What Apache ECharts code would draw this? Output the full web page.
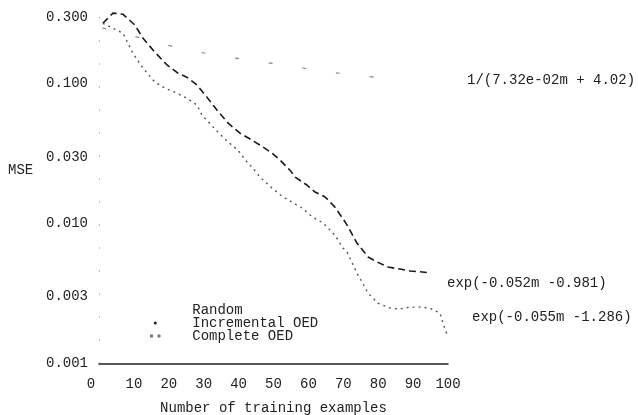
<!DOCTYPE html>
<html>
<head>
<meta charset="utf-8">
<script src="https://cdn.jsdelivr.net/npm/echarts@6/dist/echarts.min.js"></script>
<style>html,body{margin:0;padding:0;background:#fff}#c{width:638px;height:415px}</style>
</head>
<body>
<div id="c"></div>
<script>
// ---- data ----
const xTicks = [0,10,20,30,40,50,60,70,80,90,100];
const yTicks = [0.001,0.003,0.01,0.03,0.1,0.3];

const randomM = [1, 17.5, 23, 35, 51, 66, 86];
const randomV = [0.25, 0.195, 0.179, 0.157, 0.138, 0.121, 0.106];

const incM = [1.1, 4.0, 6.9, 10.3, 12.6, 16.0, 19.5, 22.6, 25.2, 28.1, 30.9, 33.8, 37.0, 40.4, 43.8, 46.1, 49.6, 51.9, 54.7, 56.2, 59.6, 61.9, 64.8, 67.6, 69.6, 71.1, 73.9, 77.1, 79.7, 82.8, 86.2, 89.1, 92.6, 95.1];
const incV = [0.270, 0.319, 0.313, 0.262, 0.211, 0.168, 0.136, 0.119, 0.111, 0.0976, 0.0801, 0.0647, 0.0522, 0.0443, 0.0395, 0.0364, 0.0319, 0.0284, 0.0241, 0.0215, 0.0188, 0.0168, 0.0155, 0.0131, 0.0111, 0.00975, 0.00726, 0.00577, 0.00531, 0.00489, 0.00473, 0.00458, 0.00451, 0.00443];

const comM = [1.1, 6.9, 9.7, 12.6, 16.0, 18.9, 22.3, 25.2, 28.1, 29.5, 34.1, 37.0, 39.8, 42.4, 44.1, 46.1, 49.6, 52.7, 58.2, 61.3, 64.2, 67.6, 69.9, 71.1, 73.9, 77.1, 79.9, 83.4, 86.2, 89.1, 92.0, 94.8, 97.7, 99, 100];
const comV = [0.270, 0.229, 0.165, 0.129, 0.1026, 0.0929, 0.0855, 0.0787, 0.0702, 0.0596, 0.0450, 0.0382, 0.0335, 0.0275, 0.0249, 0.0215, 0.0179, 0.0155, 0.0129, 0.0111, 0.0101, 0.00827, 0.00668, 0.00626, 0.00443, 0.00319, 0.00270, 0.00249, 0.00245, 0.00253, 0.00253, 0.00249, 0.00229, 0.0018, 0.00155];

const seriesNames = ['Random', 'Incremental OED', 'Complete OED'];
const fitLabels = ['1/(7.32e-02m + 4.02)', 'exp(-0.052m -0.981)', 'exp(-0.055m -1.286)'];

const pair = (m, v) => m.map((x, i) => [x, v[i]]);
const FONT = '"Liberation Mono", "DejaVu Sans Mono", monospace';
const COLORS = ['#888', '#1a1a1a', '#555'];

const chart = echarts.init(document.getElementById('c'), null, {renderer: 'canvas'});
chart.setOption({
  animation: false,
  backgroundColor: '#fff',
  color: COLORS,
  grid: {left: 99, right: 190, top: 7.5, bottom: 51.5, outerBoundsMode: 'none', containLabel: false},
  xAxis: {
    type: 'value', min: 0, max: 100, interval: 10,
    name: 'Number of training examples', nameLocation: 'middle', nameGap: 38,
    nameTextStyle: {fontFamily: FONT, fontSize: 14, color: '#222'},
    axisLine: {show: true, lineStyle: {color: '#222', width: 1.5}},
    axisTick: {show: false},
    splitLine: {show: false},
    axisLabel: {
      fontFamily: FONT, fontSize: 14, color: '#222', margin: 14,
      formatter: v => v === 0 ? '{z|0}' : String(v),
      rich: {z: {fontFamily: FONT, fontSize: 14, color: '#222', padding: [0, 16, 0, 0]}}
    }
  },
  yAxis: {
    type: 'log', min: 0.001, max: 0.35, logBase: 10,
    axisLine: {show: true, lineStyle: {color: '#bbb', width: 1, type: [1, 22]}},
    axisTick: {show: false},
    splitLine: {show: false},
    axisLabel: {
      fontFamily: FONT, fontSize: 14, color: '#222', margin: 11,
      customValues: yTicks,
      formatter: v => Number(v).toFixed(3)
    }
  },
  legend: {
    orient: 'vertical', left: 145, top: 298,
    itemWidth: 20, itemHeight: 3, itemGap: -1,
    textStyle: {fontFamily: FONT, fontSize: 14, color: '#222', lineHeight: 13, padding: [0, 0, 0, 22]},
    data: [
      {name: seriesNames[0], icon: 'circle', itemStyle: {opacity: 0}},
      {name: seriesNames[1], icon: 'circle', itemStyle: {color: '#222'}},
      {name: seriesNames[2], icon: 'path://M0,0h2v2h-2zM5,0h2v2h-2z', itemStyle: {color: '#777'}}
    ]
  },
  graphic: [
    {type: 'text', left: 8, top: 163, style: {text: 'MSE', font: '14px ' + FONT, fill: '#222'}},
    {type: 'text', left: 467, top: 73, style: {text: fitLabels[0], font: '14px ' + FONT, fill: '#222'}},
    {type: 'text', left: 447, top: 276, style: {text: fitLabels[1], font: '14px ' + FONT, fill: '#222'}},
    {type: 'text', left: 472, top: 310, style: {text: fitLabels[2], font: '14px ' + FONT, fill: '#222'}}
  ],
  series: [
    {name: seriesNames[0], type: 'line', data: pair(randomM, randomV), symbol: 'none',
     itemStyle: {color: COLORS[0]}, lineStyle: {color: COLORS[0], width: 1.2, type: [4, 30]}},
    {name: seriesNames[1], type: 'line', data: pair(incM, incV), symbol: 'none',
     itemStyle: {color: COLORS[1]}, lineStyle: {color: COLORS[1], width: 1.6, type: [7, 4]}},
    {name: seriesNames[2], type: 'line', data: pair(comM, comV), symbol: 'none',
     itemStyle: {color: COLORS[2]}, lineStyle: {color: COLORS[2], width: 1.4, type: [2, 4]}}
  ]
});
</script>
</body>
</html>
